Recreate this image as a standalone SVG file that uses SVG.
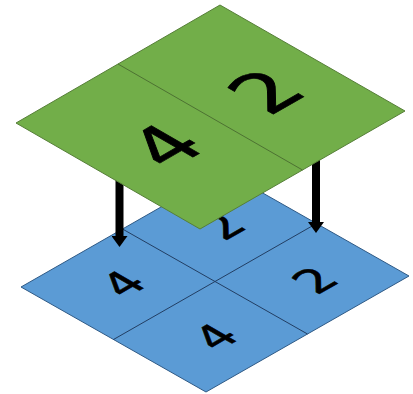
<svg xmlns="http://www.w3.org/2000/svg" width="413" height="394" viewBox="0 0 413 394">
<defs>
<marker id="ah" markerUnits="userSpaceOnUse" markerWidth="11" markerHeight="16" viewBox="0 0 11 16" refX="0" refY="8" orient="auto">
<path d="M0,0 L11,8 L0,16 z" fill="#000"/>
</marker>
<style>
.blue{fill:#5B9BD5;stroke:#2F5A86;stroke-width:1}
.green{fill:#72AE49;stroke:#567F38;stroke-width:1}
.bdiv{stroke:#223E63;stroke-width:1;fill:none}
.gdiv{stroke:#4D7232;stroke-width:1;fill:none}
.arrow{stroke:#000;stroke-width:8;fill:none;marker-end:url(#ah)}
.num{font-family:"DejaVu Sans","Liberation Sans",sans-serif;text-anchor:middle;fill:#000;stroke:#000}
.big{font-size:76px;stroke-width:0.8}
.small{font-size:46px;stroke-width:0.6}
</style>
</defs>
<g id="bottom-layer">
<polygon class="blue" points="224,171 409,276 206,392 21,287"/>
<line class="bdiv" x1="122.5" y1="229" x2="307.5" y2="334"/>
<line class="bdiv" x1="316.5" y1="223.5" x2="113.5" y2="339.5"/>
<g transform="matrix(0.866,-0.5,0.866,0.5,222,226)"><text class="num small" x="0" y="16.8">2</text></g>
<g transform="matrix(0.866,-0.5,0.866,0.5,122.5,283.5)"><text class="num small" x="0" y="16.8">4</text></g>
<g transform="matrix(0.866,-0.5,0.866,0.5,314.5,280)"><text class="num small" x="0" y="16.8">2</text></g>
<g transform="matrix(0.866,-0.5,0.866,0.5,215,336.5)"><text class="num small" x="0" y="16.8">4</text></g>
</g>
<g id="connectors">
<line class="arrow" x1="119.5" y1="170" x2="119.5" y2="236"/>
<line class="arrow" x1="316" y1="150" x2="316" y2="222"/>
</g>
<g id="top-layer">
<polygon class="green" points="220,5 405,111 200,229 16,123"/>
<line class="gdiv" x1="118" y1="64" x2="302.5" y2="170"/>
<g transform="matrix(0.866,-0.5,0.866,0.5,265.5,91)"><text class="num big" x="0" y="27.7">2</text></g>
<g transform="matrix(0.866,-0.5,0.866,0.5,165,145.5)"><text class="num big" x="0" y="27.7">4</text></g>
</g>
</svg>
